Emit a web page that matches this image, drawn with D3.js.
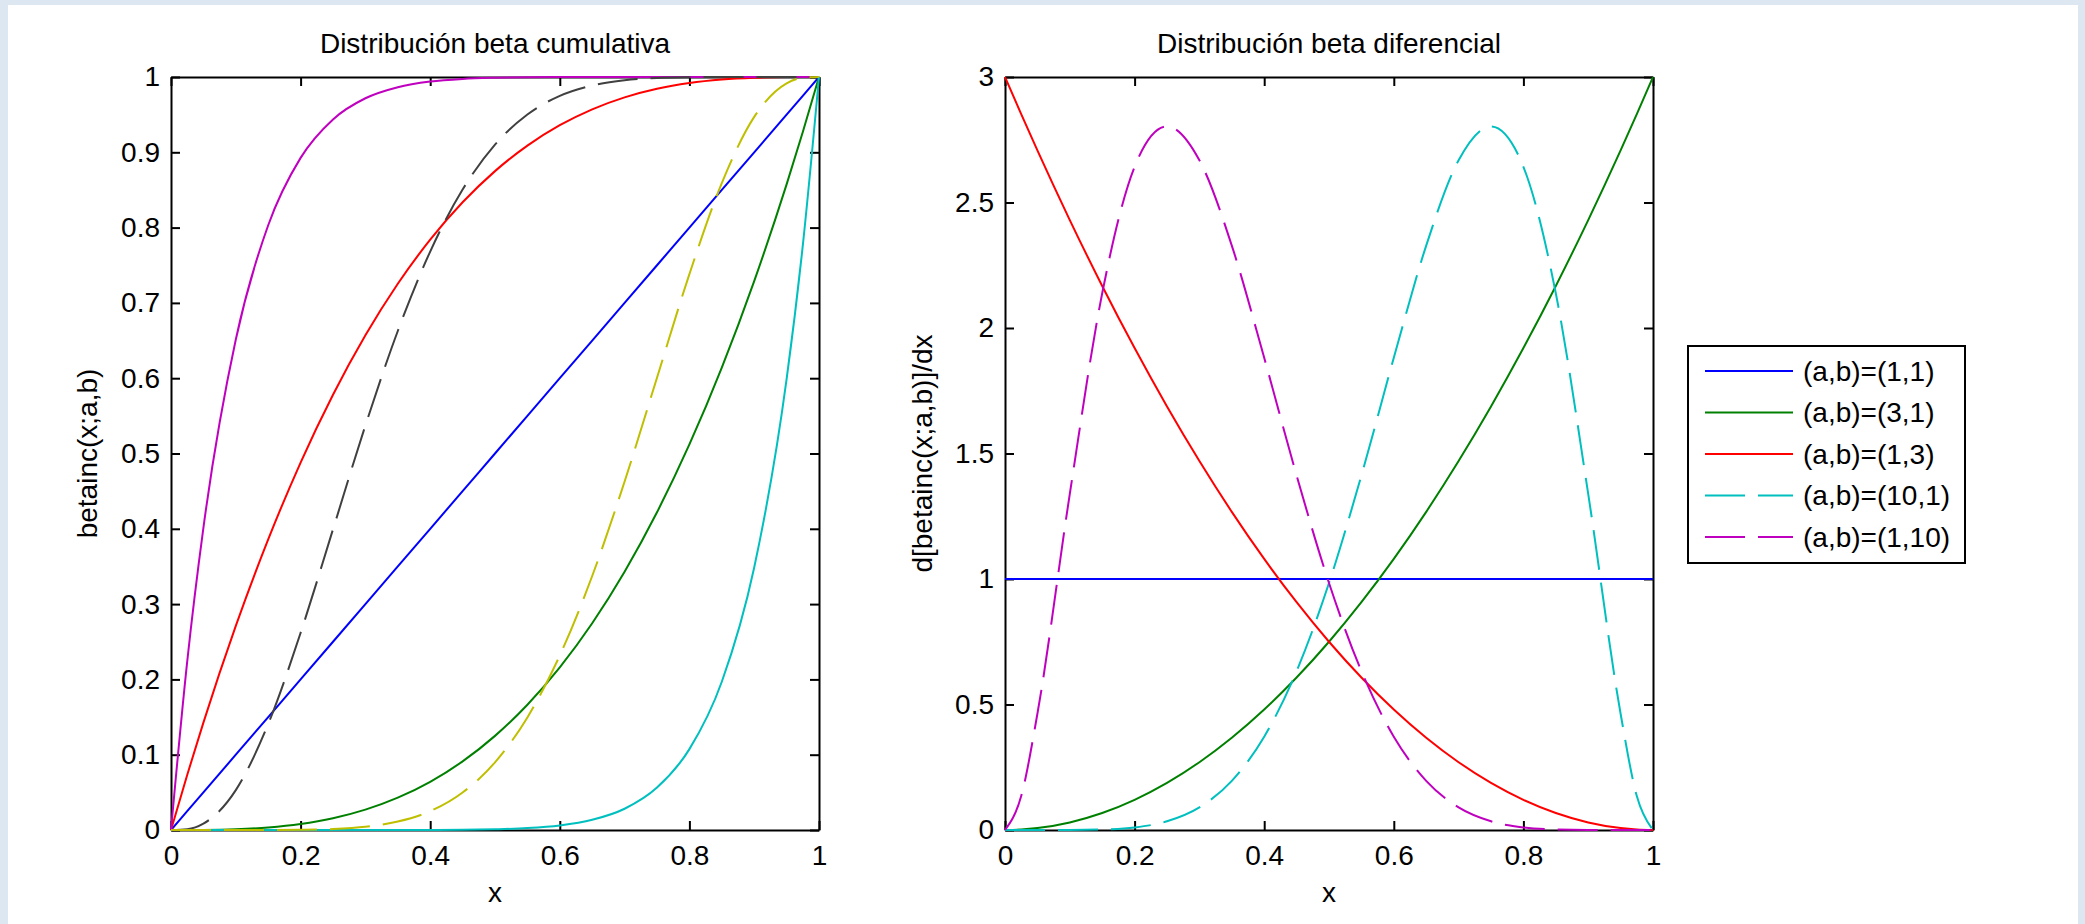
<!DOCTYPE html>
<html>

<head>
  <script src="https://d3js.org/d3.v7.min.js"></script>
  <meta http-equiv="Content-Type" content="text/html; charset=utf-8">
  <title>Distribución beta</title>
  <style type="text/css">
    body {
      margin: 0;
      background: #dde7f2;
    }

    svg text {
      font-family: "Liberation Sans", Arial, sans-serif;
      fill: #000;
    }
  </style>
</head>

<body>
  <svg id="chart"></svg>
</body>

<script>
  // x positions sampled for every curve
  const xs = [0, 0.025, 0.05, 0.1, 0.15, 0.2, 0.25, 0.3, 0.35, 0.4, 0.45, 0.5,
    0.55, 0.6, 0.65, 0.7, 0.75, 0.8, 0.85, 0.9, 0.95, 0.975, 1];

  // left panel: cumulative values
  const cdf_1_1 = [0, 0.025, 0.05, 0.1, 0.15, 0.2, 0.25, 0.3, 0.35, 0.4, 0.45, 0.5,
    0.55, 0.6, 0.65, 0.7, 0.75, 0.8, 0.85, 0.9, 0.95, 0.975, 1];
  const cdf_3_1 = [0, 0, 0.0001, 0.001, 0.0034, 0.008, 0.0156, 0.027, 0.0429, 0.064, 0.0911, 0.125,
    0.1664, 0.216, 0.2746, 0.343, 0.4219, 0.512, 0.6141, 0.729, 0.8574, 0.9269, 1];
  const cdf_1_3 = [0, 0.0731, 0.1426, 0.271, 0.3859, 0.488, 0.5781, 0.657, 0.7254, 0.784, 0.8336, 0.875,
    0.9089, 0.936, 0.9571, 0.973, 0.9844, 0.992, 0.9966, 0.999, 0.9999, 1, 1];
  const cdf_10_1 = [0, 0, 0, 0, 0, 0, 0, 0, 0, 0.0001, 0.0003, 0.001,
    0.0025, 0.006, 0.0135, 0.0282, 0.0563, 0.1074, 0.1969, 0.3487, 0.5987, 0.7763, 1];
  const cdf_1_10 = [0, 0.2237, 0.4013, 0.6513, 0.8031, 0.8926, 0.9437, 0.9718, 0.9865, 0.994, 0.9975, 0.999,
    0.9997, 0.9999, 1, 1, 1, 1, 1, 1, 1, 1, 1];
  const cdf_3_7 = [0, 0.0011, 0.0084, 0.053, 0.1408, 0.2618, 0.3993, 0.5372, 0.6627, 0.7682, 0.8505, 0.9102,
    0.9502, 0.975, 0.9888, 0.9957, 0.9987, 0.9997, 1, 1, 1, 1, 1];
  const cdf_7_3 = [0, 0, 0, 0, 0, 0.0003, 0.0013, 0.0043, 0.0112, 0.025, 0.0498, 0.0898,
    0.1495, 0.2318, 0.3373, 0.4628, 0.6007, 0.7382, 0.8592, 0.947, 0.9916, 0.9989, 1];

  // right panel: densities
  const pdf_1_1 = [1, 1, 1, 1, 1, 1, 1, 1, 1, 1, 1, 1, 1, 1, 1, 1, 1, 1, 1, 1, 1, 1, 1];
  const pdf_3_1 = [0, 0.0019, 0.0075, 0.03, 0.0675, 0.12, 0.1875, 0.27, 0.3675, 0.48, 0.6075, 0.75,
    0.9075, 1.08, 1.2675, 1.47, 1.6875, 1.92, 2.1675, 2.43, 2.7075, 2.8519, 3];
  const pdf_1_3 = [3, 2.8519, 2.7075, 2.43, 2.1675, 1.92, 1.6875, 1.47, 1.2675, 1.08, 0.9075, 0.75,
    0.6075, 0.48, 0.3675, 0.27, 0.1875, 0.12, 0.0675, 0.03, 0.0075, 0.0019, 0];
  const pdf_7_3 = [0, 0, 0, 0.0002, 0.0021, 0.0103, 0.0346, 0.09, 0.1957, 0.3716, 0.633, 0.984,
    1.4126, 1.8811, 2.3282, 2.6683, 2.8032, 2.6424, 2.1384, 1.3392, 0.4631, 0.1353, 0];
  const pdf_3_7 = [0, 0.1353, 0.4631, 1.3392, 2.1384, 2.6424, 2.8032, 2.6683, 2.3282, 1.8811, 1.4126, 0.984,
    0.633, 0.3716, 0.1957, 0.09, 0.0346, 0.0103, 0.0021, 0.0002, 0, 0, 0];

  const legendLabels = ["(a,b)=(1,1)", "(a,b)=(3,1)", "(a,b)=(1,3)", "(a,b)=(10,1)", "(a,b)=(1,10)"];

  const xTicks = [0, 0.2, 0.4, 0.6, 0.8, 1];
  const cdfTicks = [0, 0.1, 0.2, 0.3, 0.4, 0.5, 0.6, 0.7, 0.8, 0.9, 1];
  const pdfTicks = [0, 0.5, 1, 1.5, 2, 2.5, 3];

  const colors = {
    blue: "#0000ff", green: "#008000", red: "#ff0000", cyan: "#00bfbf",
    magenta: "#bf00bf", yellow: "#bfbf00", gray: "#404040"
  };

  const W = 2085, H = 924;
  const plotTop = 77, plotBottom = 830;
  const fontSize = 28;
  const dash = "40,13";

  const svg = d3.select("#chart").attr("width", W).attr("height", H);

  // light blue frame round the figure
  svg.append("rect").attr("width", W).attr("height", H).attr("fill", "#dde7f2");
  svg.append("rect").attr("x", 8).attr("y", 5).attr("width", 2070).attr("height", H - 5).attr("fill", "#fff");

  function panel(left, right, yMax, yTicks, title, ylabel, ylabelX) {
    const x = d3.scaleLinear().domain([0, 1]).range([left, right]);
    const y = d3.scaleLinear().domain([0, yMax]).range([plotBottom, plotTop]);
    const g = svg.append("g");

    const fmt = d3.format("~g");

    // box with inward ticks on all four sides
    g.append("g")
      .attr("transform", `translate(0, ${plotBottom})`)
      .call(d3.axisBottom(x).tickValues(xTicks).tickFormat(fmt).tickSizeInner(-9).tickSizeOuter(0).tickPadding(15));
    g.append("g")
      .attr("transform", `translate(0, ${plotTop})`)
      .call(d3.axisTop(x).tickValues(xTicks).tickFormat("").tickSizeInner(-9).tickSizeOuter(0));
    g.append("g")
      .attr("transform", `translate(${left}, 0)`)
      .call(d3.axisLeft(y).tickValues(yTicks).tickFormat(fmt).tickSizeInner(-9).tickSizeOuter(0).tickPadding(11));
    g.append("g")
      .attr("transform", `translate(${right}, 0)`)
      .call(d3.axisRight(y).tickValues(yTicks).tickFormat("").tickSizeInner(-9).tickSizeOuter(0));

    g.selectAll(".domain, .tick line").attr("stroke", "#000").attr("stroke-width", 2);
    g.selectAll(".tick text").attr("font-size", fontSize).attr("fill", "#000");
    g.selectAll("g").attr("font-family", null).attr("font-size", null);

    g.append("text")
      .attr("x", (left + right) / 2)
      .attr("y", 53)
      .attr("text-anchor", "middle")
      .attr("font-size", fontSize)
      .text(title);

    g.append("text")
      .attr("x", (left + right) / 2)
      .attr("y", 902)
      .attr("text-anchor", "middle")
      .attr("font-size", fontSize)
      .text("x");

    g.append("text")
      .attr("transform", `translate(${ylabelX}, ${(plotTop + plotBottom) / 2}) rotate(-90)`)
      .attr("text-anchor", "middle")
      .attr("font-size", fontSize)
      .text(ylabel);

    return { x, y, g };
  }

  function drawCurve(p, values, color, dashed) {
    const line = d3.line()
      .x((d, i) => p.x(xs[i]))
      .y(d => p.y(d))
      .curve(d3.curveMonotoneX);
    p.g.append("path")
      .datum(values)
      .attr("d", line)
      .attr("fill", "none")
      .attr("stroke", color)
      .attr("stroke-width", 2)
      .attr("stroke-dasharray", dashed ? dash : null);
  }

  const leftPanel = panel(171, 819, 1, cdfTicks, "Distribución beta cumulativa", "betainc(x;a,b)", 97);
  const rightPanel = panel(1005, 1653, 3, pdfTicks, "Distribución beta diferencial", "d[betainc(x;a,b)]/dx", 932);

  drawCurve(leftPanel, cdf_1_1, colors.blue, false);
  drawCurve(leftPanel, cdf_3_1, colors.green, false);
  drawCurve(leftPanel, cdf_1_3, colors.red, false);
  drawCurve(leftPanel, cdf_10_1, colors.cyan, false);
  drawCurve(leftPanel, cdf_1_10, colors.magenta, false);
  drawCurve(leftPanel, cdf_3_7, colors.gray, true);
  drawCurve(leftPanel, cdf_7_3, colors.yellow, true);

  const pdfSeries = [
    { values: pdf_1_1, color: colors.blue, dashed: false },
    { values: pdf_3_1, color: colors.green, dashed: false },
    { values: pdf_1_3, color: colors.red, dashed: false },
    { values: pdf_7_3, color: colors.cyan, dashed: true },
    { values: pdf_3_7, color: colors.magenta, dashed: true }
  ];
  pdfSeries.forEach(s => drawCurve(rightPanel, s.values, s.color, s.dashed));

  // legend box
  const legend = svg.append("g").attr("transform", "translate(1688, 346)");
  legend.append("rect")
    .attr("width", 277).attr("height", 217)
    .attr("fill", "#fff").attr("stroke", "#000").attr("stroke-width", 2);

  legendLabels.forEach((label, i) => {
    const ly = 25 + i * 41.5;
    legend.append("line")
      .attr("x1", 17).attr("x2", 105).attr("y1", ly).attr("y2", ly)
      .attr("stroke", pdfSeries[i].color).attr("stroke-width", 2)
      .attr("stroke-dasharray", pdfSeries[i].dashed ? dash : null);
    legend.append("text")
      .attr("x", 115).attr("y", ly)
      .attr("dy", "0.35em")
      .attr("font-size", fontSize)
      .text(label);
  });
</script>

</html>
